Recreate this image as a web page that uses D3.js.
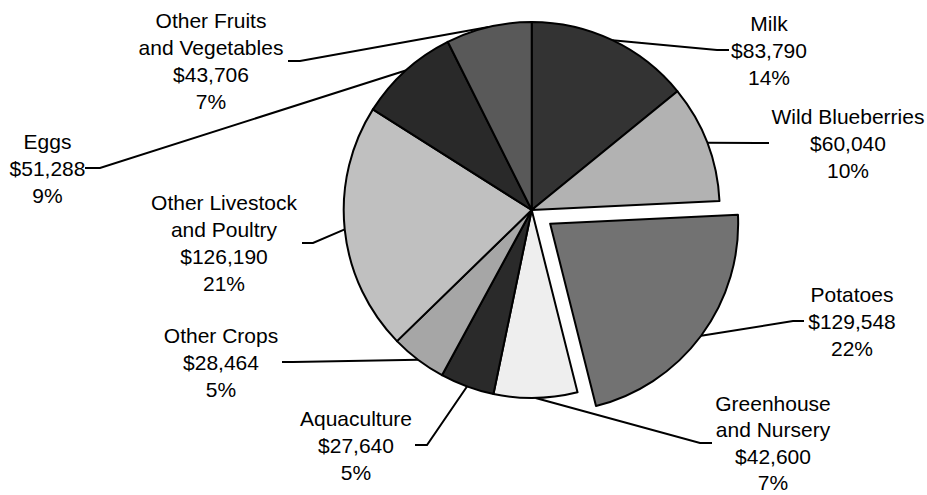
<!DOCTYPE html>
<html>
<head>
<meta charset="utf-8">
<script src="https://cdn.jsdelivr.net/npm/d3@7/dist/d3.min.js"></script>
<style>
  html, body { margin: 0; padding: 0; background: #fff; }
  svg { display: block; }
  text { font-family: "Liberation Sans", Arial, sans-serif; font-size: 21px; fill: #000; }
</style>
</head>
<body>
<svg id="chart" width="927" height="495"></svg>
<script>
// ---- data ----
const categories = ["Milk", "Wild Blueberries", "Potatoes", "Greenhouse and Nursery", "Aquaculture",
                    "Other Crops", "Other Livestock and Poultry", "Eggs", "Other Fruits and Vegetables"];
const labelLines = [["Milk"], ["Wild Blueberries"], ["Potatoes"], ["Greenhouse", "and Nursery"], ["Aquaculture"],
                    ["Other Crops"], ["Other Livestock", "and Poultry"], ["Eggs"], ["Other Fruits", "and Vegetables"]];
const values = [83790, 60040, 129548, 42600, 27640, 28464, 126190, 51288, 43706];
const exploded = [false, false, true, false, false, false, false, false, false];

// ---- styles / layout ----
const colors = ["#333333", "#b2b2b2", "#727272", "#eeeeee", "#2a2a2a", "#a6a6a6", "#c0c0c0", "#292929", "#595959"];
// label box centre (cx, cy), leader end x, elbow x, line height
const labelPos = [
  {cx: 769, cy: 50,  end: 729, elbow: 717, lh: 27},
  {cx: 848, cy: 143, end: 769, elbow: 758, lh: 27},
  {cx: 852, cy: 321, end: 804, elbow: 793, lh: 27},
  {cx: 773, cy: 443, end: 712, elbow: 700, lh: 26.5},
  {cx: 356, cy: 445, end: 415, elbow: 427, lh: 27},
  {cx: 221, cy: 362, end: 282, elbow: 293, lh: 27},
  {cx: 224, cy: 243, end: 302, elbow: 313, lh: 27},
  {cx: 47.5, cy: 168, end: 85, elbow: 100, lh: 27},
  {cx: 211, cy: 61, end: 288, elbow: 300, lh: 27}
];

const cx = 531.7, cy = 210, R = 188, explode = 23;

const svg = d3.select("#chart");
const total = d3.sum(values);
const data = categories.map((c, i) => ({name: c, lines: labelLines[i], value: values[i], ex: exploded[i], color: colors[i], pos: labelPos[i]}));

const pie = d3.pie().sort(null).value(d => d.value).startAngle(0).endAngle(2 * Math.PI);
const arcs = pie(data);
const arc = d3.arc().innerRadius(0).outerRadius(R);

const fmtMoney = v => "$" + d3.format(",")(v);
const fmtPct = v => Math.round(v / total * 100) + "%";

function offset(a) {
  const mid = (a.startAngle + a.endAngle) / 2;
  const o = a.data.ex ? explode : 0;
  return [o * Math.sin(mid), -o * Math.cos(mid)];
}

// leader lines
const leaders = svg.append("g");
arcs.forEach(a => {
  const mid = (a.startAngle + a.endAngle) / 2;
  const [ox, oy] = offset(a);
  const px = cx + ox + R * Math.sin(mid);
  const py = cy + oy - R * Math.cos(mid);
  const p = a.data.pos;
  leaders.append("path")
    .attr("d", d3.line()([[px, py], [p.elbow, p.cy], [p.end, p.cy]]))
    .attr("fill", "none")
    .attr("stroke", "#000")
    .attr("stroke-width", 2);
});

// slices
const g = svg.append("g");
g.selectAll("path.slice")
  .data(arcs)
  .join("path")
  .attr("class", "slice")
  .attr("transform", a => { const [ox, oy] = offset(a); return `translate(${cx + ox},${cy + oy})`; })
  .attr("d", arc)
  .attr("fill", a => a.data.color)
  .attr("stroke", "#000")
  .attr("stroke-width", 2)
  .attr("stroke-linejoin", "round");

// labels
const labels = svg.append("g");
arcs.forEach(a => {
  const d = a.data;
  const lines = d.lines.concat([fmtMoney(d.value), fmtPct(d.value)]);
  const n = lines.length;
  const t = labels.append("text").attr("text-anchor", "middle");
  lines.forEach((ln, i) => {
    t.append("tspan")
      .attr("x", d.pos.cx)
      .attr("y", d.pos.cy + (i - (n - 1) / 2) * d.pos.lh)
      .attr("dy", "0.36em")
      .text(ln);
  });
});
</script>
</body>
</html>
